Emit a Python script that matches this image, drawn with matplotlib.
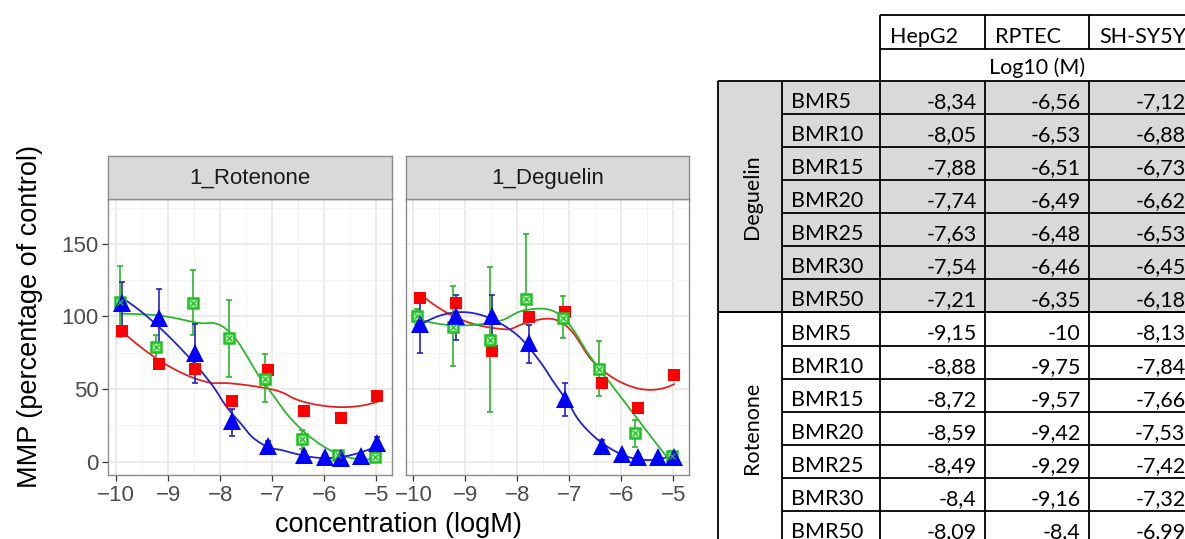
import numpy as np
import matplotlib
matplotlib.use("Agg")
import matplotlib.pyplot as plt
from matplotlib.patches import Rectangle
from matplotlib.ticker import MultipleLocator

# ---------------- data ----------------
panels = ["1_Rotenone", "1_Deguelin"]

x_red = [-9.88, -9.18, -8.48, -7.78, -7.08, -6.38, -5.68, -4.98]
x_green = [-9.93, -9.23, -8.53, -7.83, -7.13, -6.43, -5.73, -5.03]
x_blue = [-9.88, -9.18, -8.48, -7.78, -7.08, -6.38, -5.99, -5.68, -5.29, -4.98]

# Rotenone
rot_red = [90, 67.5, 64, 42, 63, 35, 30, 45]
rot_green = [110, 79, 109, 85, 57, 15.5, 4.5, 3]
rot_green_lo = [86, 70, 87, 58.5, 41, 9, 2, 0.5]
rot_green_hi = [135, 87, 132, 111.5, 74, 22, 7, 5]
rot_blue = [109, 99, 75, 28, 11, 4.5, 3.5, 2.5, 4, 12.5]
rot_blue_lo = [91, 78, 54, 18, 8, 2, 2, 1, 2, 8]
rot_blue_hi = [124, 119, 95, 36, 14, 7, 5, 4, 6, 17]

# Deguelin
deg_red = [113, 109, 76.5, 99.5, 103, 54.5, 37, 60]
deg_green = [100, 93, 84, 112, 99, 64, 20, 4]
deg_green_lo = [95, 66, 34, 95, 85, 45, 10, 1]
deg_green_hi = [105, 121, 134, 157, 114, 83, 29, 7]
deg_blue = [95, 100, 100, 82, 43, 10.5, 5, 3.5, 3, 3.5]
deg_blue_lo = [75, 84, 85, 68, 31.5, 6, 3, 2, 1.5, 2]
deg_blue_hi = [113, 115, 115, 94, 54.5, 15, 7, 5, 4.5, 5]

x_ticks = [-10, -9, -8, -7, -6, -5]
y_ticks = [0, 50, 100, 150]

# table
cell_lines = ["HepG2", "RPTEC", "SH-SY5Y"]
unit_label = "Log10 (M)"
groups = ["Deguelin", "Rotenone"]
bmr_labels = ["BMR5", "BMR10", "BMR15", "BMR20", "BMR25", "BMR30", "BMR50"]
deg_hepg2 = [-8.34, -8.05, -7.88, -7.74, -7.63, -7.54, -7.21]
deg_rptec = [-6.56, -6.53, -6.51, -6.49, -6.48, -6.46, -6.35]
deg_shsy5y = [-7.12, -6.88, -6.73, -6.62, -6.53, -6.45, -6.18]
rot_hepg2 = [-9.15, -8.88, -8.72, -8.59, -8.49, -8.4, -8.09]
rot_rptec = [-10, -9.75, -9.57, -9.42, -9.29, -9.16, -8.4]
rot_shsy5y = [-8.13, -7.84, -7.66, -7.53, -7.42, -7.32, -6.99]

# ---------------- helpers ----------------
W, H = 1185, 539
fig = plt.figure(figsize=(W / 100, H / 100), dpi=100)
fig.patch.set_facecolor("white")


def px_axes(x0, y0, x1, y1):
    return fig.add_axes([x0 / W, 1 - y1 / H, (x1 - x0) / W, (y1 - y0) / H])


def loess(x, y, xs, span=0.75):
    """local quadratic, tricube weights (like ggplot2's default smoother)"""
    x = np.asarray(x, float)
    y = np.asarray(y, float)
    n = len(x)
    q = int(np.floor(n * span))
    out = []
    for x0 in xs:
        d = np.abs(x - x0)
        ds = np.sort(d)
        h = ds[q - 1] if q >= n else 0.5 * (ds[q - 1] + ds[q])
        u = np.clip(d / h, 0, 1)
        w = (1 - u ** 3) ** 3
        X = np.vstack([np.ones(n), x - x0, (x - x0) ** 2]).T
        sw = np.sqrt(w)
        beta = np.linalg.lstsq(X * sw[:, None], y * sw, rcond=None)[0]
        out.append(beta[0])
    return np.array(out)


CHART_FONT = ["Liberation Sans", "DejaVu Sans"]
RED, RED_L = "#ff0000", "#e02424"
GREEN, GREEN_L = "#22c022", "#2db52d"
BLUE, BLUE_L = "#0000ff", "#2323c8"

panel_px = [(108.3, 392.3), (405.7, 689.3)]
series_sets = [
    (rot_red, rot_green, rot_green_lo, rot_green_hi, rot_blue, rot_blue_lo, rot_blue_hi),
    (deg_red, deg_green, deg_green_lo, deg_green_hi, deg_blue, deg_blue_lo, deg_blue_hi),
]

for i, (name, (l, r), data) in enumerate(zip(panels, panel_px, series_sets)):
    red, green, glo, ghi, blue, blo, bhi = data
    ax = px_axes(l, 199.3, r, 475)
    ax.set_xlim(-10.15, -4.69)
    ax.set_ylim(-9.2, 180.7)
    ax.set_xticks(x_ticks)
    ax.set_yticks(y_ticks)
    ax.xaxis.set_minor_locator(MultipleLocator(0.5))
    ax.yaxis.set_minor_locator(MultipleLocator(25))
    ax.grid(which="major", color="#e6e6e6", lw=1.1)
    ax.grid(which="minor", color="#f3f3f3", lw=0.7)
    ax.set_axisbelow(True)
    ax.tick_params(which="minor", length=0)
    ax.tick_params(which="major", direction="out", length=4.5, width=0.9,
                   color="#333333", labelsize=16, labelcolor="#4d4d4d", pad=2.5)
    for lab in ax.get_xticklabels() + ax.get_yticklabels():
        lab.set_family(CHART_FONT)
    if i > 0:
        ax.set_yticklabels([])
        ax.tick_params(axis="y", length=0)
    for s in ax.spines.values():
        s.set_color("#8c8c8c")
        s.set_linewidth(1.0)

    # smooth curves
    for xs_, ys_, col in [(x_red, red, RED_L), (x_green, green, GREEN_L), (x_blue, blue, BLUE_L)]:
        grid = np.linspace(min(xs_), max(xs_), 80)
        ax.plot(grid, loess(xs_, ys_, grid), color=col, lw=1.3, zorder=3, solid_capstyle="round")

    # error bars
    g = np.asarray(green, float)
    ax.errorbar(x_green, g, yerr=[g - np.asarray(glo), np.asarray(ghi) - g], fmt="none",
                ecolor=GREEN_L, elinewidth=1.2, capsize=2.5, capthick=1.2, zorder=4)
    b = np.asarray(blue, float)
    ax.errorbar(x_blue, b, yerr=[b - np.asarray(blo), np.asarray(bhi) - b], fmt="none",
                ecolor=BLUE_L, elinewidth=1.2, capsize=2.5, capthick=1.2, zorder=4)

    # points
    ax.plot(x_red, red, "s", ms=8.8, mfc=RED, mec=RED, mew=0, zorder=5)
    ax.plot(x_green, green, "s", ms=6.5, mfc="#aef0ae", mec=GREEN, mew=1.8, zorder=5)
    ax.plot(x_green, green, "x", ms=4.5, mec=GREEN, mew=0.9, zorder=6)
    ax.plot(x_blue, blue, "^", ms=12.5, mfc=BLUE, mec=BLUE, mew=0, zorder=5)

    # strip
    st = px_axes(l, 156, r, 199.3)
    st.set_facecolor("#d9d9d9")
    st.set_xticks([])
    st.set_yticks([])
    for s in st.spines.values():
        s.set_color("#8c8c8c")
        s.set_linewidth(1.0)
    st.text(0.5, 0.48, name, ha="center", va="center", fontsize=16,
            color="#1a1a1a", family=CHART_FONT, transform=st.transAxes)

fig.text(30 / W, 1 - 316 / H, "MMP (percentage of control)", rotation=90,
         ha="center", va="center", fontsize=19.5, color="black", family=CHART_FONT)
fig.text(398.5 / W, 1 - 532 / H, "concentration (logM)", ha="center", va="baseline",
         fontsize=19.5, color="black", family=CHART_FONT)

# ---------------- table ----------------
tab = fig.add_axes([0, 0, 1, 1], facecolor="none")
tab.set_xlim(0, W)
tab.set_ylim(H, 0)
tab.axis("off")
TF = ["Lato", "DejaVu Sans"]
TS = 15.5
col_x = [718, 781.7, 880, 985.3, 1089.3, 1194]
hdr_y = [15.3, 49, 80.7]
row_h = 33.1
LW = 1.3


def fmt(v):
    return f"{v:g}".replace(".", ",")


def hline(x0, x1, y):
    tab.plot([x0, x1], [y, y], color="black", lw=LW, solid_capstyle="butt", clip_on=False)


def vline(x, y0, y1):
    tab.plot([x, x], [y0, y1], color="black", lw=LW, solid_capstyle="butt", clip_on=False)


# header
for j, name in enumerate(cell_lines):
    tab.text(col_x[2 + j] + 10, hdr_y[1] - 5.7, name, ha="left", va="baseline",
             fontsize=TS, family=TF, color="black")
tab.text((col_x[2] + col_x[5]) / 2, hdr_y[2] - 7, unit_label, ha="center", va="baseline",
         fontsize=TS, family=TF, color="black")
hline(col_x[2], col_x[5], hdr_y[0])
hline(col_x[2], col_x[5], hdr_y[1])
for xv in col_x[2:5]:
    vline(xv, hdr_y[0], hdr_y[1])
vline(col_x[2], hdr_y[1], hdr_y[2])

group_values = [(deg_hepg2, deg_rptec, deg_shsy5y), (rot_hepg2, rot_rptec, rot_shsy5y)]
group_fill = ["#d9d9d9", "white"]
y = hdr_y[2]
for gi, (gname, vals) in enumerate(zip(groups, group_values)):
    gy0 = y
    gy1 = y + row_h * len(bmr_labels)
    tab.add_patch(Rectangle((col_x[0], gy0), col_x[5] - col_x[0], gy1 - gy0,
                            facecolor=group_fill[gi], edgecolor="none", zorder=0))
    tab.text((col_x[0] + col_x[1]) / 2 + 2, (gy0 + gy1) / 2, gname, rotation=90,
             ha="center", va="center", fontsize=TS, family=TF, color="black")
    for k, lab in enumerate(bmr_labels):
        ry0 = gy0 + k * row_h
        ry1 = ry0 + row_h
        tab.text(col_x[1] + 9.5, ry1 - 6, lab, ha="left", va="baseline",
                 fontsize=TS, family=TF, color="black")
        for j in range(3):
            tab.text(col_x[3 + j] - 8.5, ry1 - 6, fmt(vals[j][k]), ha="right", va="baseline",
                     fontsize=TS, family=TF, color="black")
        hline(col_x[1], col_x[5], ry1)
    hline(col_x[0], col_x[5], gy0)
    hline(col_x[0], col_x[1], gy1)
    for xv in col_x[:5]:
        vline(xv, gy0, gy1)
    y = gy1

fig.savefig("out.png", dpi=100, facecolor="white")
